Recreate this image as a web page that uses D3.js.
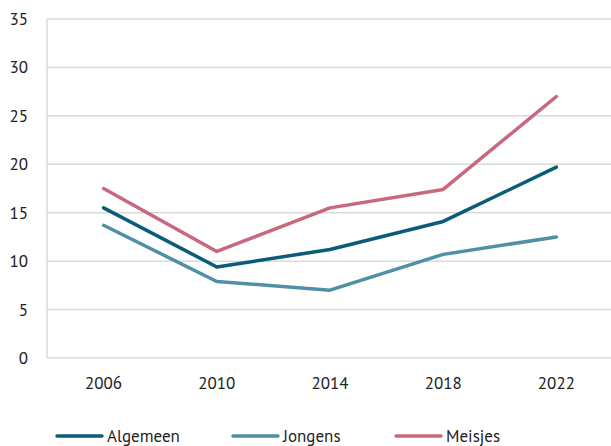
<!DOCTYPE html>
<html><head><meta charset="utf-8">
<script src="https://cdn.jsdelivr.net/npm/d3@7"></script>
<style>body{margin:0;background:#fff;} text{font-family:"PT Sans",Lato,"Noto Sans",sans-serif;}</style>
</head><body>
<svg id="c" width="611" height="446"></svg>
<script>
const years = ["2006","2010","2014","2018","2022"];
const algemeen = [15.5, 9.4, 11.2, 14.1, 19.7];
const jongens = [13.7, 7.9, 7.0, 10.7, 12.5];
const meisjes = [17.5, 11.0, 15.5, 17.4, 27.0];
const yTicks = [0,5,10,15,20,25,30,35];
const seriesNames = ["Algemeen","Jongens","Meisjes"];
const colors = ["#0a5c78","#4f90a4","#c8677e"];
const series = [algemeen, jongens, meisjes];

(function(){
const svg = d3.select("#c");
const mLeft = 47, mRight = 613, mTop = 19, mBottom = 358;
const x = d3.scaleBand().domain(years).range([mLeft, mRight]);
const y = d3.scaleLinear().domain([0,35]).range([mBottom, mTop]);

svg.append("g").selectAll("line").data(yTicks).join("line")
  .attr("x1", mLeft).attr("x2", 611)
  .attr("y1", d=>y(d)).attr("y2", d=>y(d))
  .attr("stroke","#d9d9d9").attr("stroke-width",1.5);
svg.append("line").attr("x1",mLeft).attr("x2",mLeft).attr("y1",mTop).attr("y2",mBottom)
  .attr("stroke","#d9d9d9").attr("stroke-width",1.5);

svg.append("g").selectAll("text").data(yTicks).join("text")
  .attr("x", 28).attr("y", d=>y(d)).attr("dy","0.35em")
  .attr("text-anchor","end").attr("font-size",17).attr("fill","#222")
  .text(d=>d);
svg.append("g").selectAll("text").data(years).join("text")
  .attr("x", d=>x(d)+x.bandwidth()/2).attr("y", 383).attr("dy","0.35em")
  .attr("text-anchor","middle").attr("font-size",17).attr("fill","#222")
  .text(d=>d);

const line = d3.line().x((d,i)=>x(years[i])+x.bandwidth()/2).y(d=>y(d));
series.forEach((s,k)=>{
  svg.append("path").datum(s).attr("d", line).attr("fill","none")
    .attr("stroke", colors[k]).attr("stroke-width",3.5)
    .attr("stroke-linejoin","round").attr("stroke-linecap","round");
});

const legX = [57, 233, 396];
seriesNames.forEach((n,k)=>{
  const g = svg.append("g").attr("transform",`translate(${legX[k]},436)`);
  g.append("line").attr("x1",0).attr("x2",45).attr("y1",0).attr("y2",0)
    .attr("stroke",colors[k]).attr("stroke-width",3.5).attr("stroke-linecap","round");
  g.append("text").attr("x",50).attr("y",0).attr("dy","0.35em")
    .attr("font-size",17).attr("fill","#222").text(n);
});
})();
</script>
</body></html>
